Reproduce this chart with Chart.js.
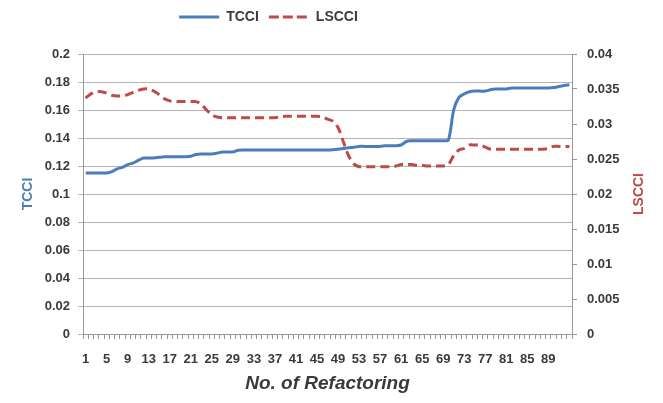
<!DOCTYPE html>
<html>
<head>
<meta charset="utf-8">
<script src="https://cdn.jsdelivr.net/npm/chart.js@4"></script>
<style>
  html, body { margin: 0; padding: 0; background: #fff; }
  #wrap { width: 663px; height: 403px; }
</style>
</head>
<body>
<div id="wrap"><canvas id="chart" width="663" height="403"></canvas></div>
<script>
// refactoring number 1..93
const refactorings = [];
for (let i = 1; i <= 93; i++) refactorings.push(String(i));

const tcci = [
  0.115, 0.115, 0.115, 0.115, 0.115, 0.116, 0.118, 0.119, 0.121, 0.122,
  0.124, 0.1257, 0.1257, 0.1257, 0.1262, 0.1266, 0.1266, 0.1266, 0.1266, 0.1266,
  0.127, 0.1282, 0.1286, 0.1286, 0.1286, 0.1292, 0.130, 0.130, 0.130, 0.1312,
  0.1314, 0.1314, 0.1314, 0.1314, 0.1314, 0.1314, 0.1314, 0.1314, 0.1314, 0.1314,
  0.1314, 0.1314, 0.1314, 0.1314, 0.1314, 0.1314, 0.1314, 0.1316, 0.132, 0.1325,
  0.133, 0.1334, 0.134, 0.134, 0.134, 0.134, 0.134, 0.1345, 0.1345, 0.1345,
  0.135, 0.1375, 0.138, 0.138, 0.138, 0.138, 0.138, 0.138, 0.138, 0.1386,
  0.160, 0.169, 0.1715, 0.173, 0.1735, 0.1735, 0.1735, 0.1745, 0.175, 0.175,
  0.175, 0.1757, 0.1757, 0.1757, 0.1757, 0.1757, 0.1757, 0.1757, 0.1757, 0.176,
  0.1768, 0.1775, 0.178
];

const lscci = [
  0.0337, 0.0343, 0.0346, 0.0346, 0.0344, 0.0341, 0.034, 0.034, 0.0342, 0.0345,
  0.0348, 0.035, 0.035, 0.0347, 0.0342, 0.0336, 0.0333, 0.0332, 0.0332, 0.0332,
  0.0332, 0.0332, 0.0328, 0.032, 0.0313, 0.031, 0.0309, 0.0309, 0.0309, 0.0309,
  0.0309, 0.0309, 0.0309, 0.0309, 0.0309, 0.0309, 0.0309, 0.031, 0.0311, 0.0311,
  0.0311, 0.0311, 0.0311, 0.0311, 0.0311, 0.031, 0.0307, 0.0304, 0.0295, 0.0275,
  0.0255, 0.0243, 0.0239, 0.0239, 0.0239, 0.0239, 0.0239, 0.0239, 0.0239, 0.024,
  0.0242, 0.0242, 0.0242, 0.0241, 0.0241, 0.024, 0.024, 0.024, 0.024, 0.0242,
  0.0255, 0.0263, 0.0265, 0.027, 0.027, 0.027, 0.0267, 0.0264, 0.0264, 0.0264,
  0.0264, 0.0264, 0.0264, 0.0264, 0.0264, 0.0264, 0.0264, 0.0264, 0.0265, 0.0268,
  0.0268, 0.0268, 0.0268
];

const leftTicks = [0, 0.02, 0.04, 0.06, 0.08, 0.1, 0.12, 0.14, 0.16, 0.18, 0.2];
const rightTicks = [0, 0.005, 0.01, 0.015, 0.02, 0.025, 0.03, 0.035, 0.04];

const blue = '#4a7ebb';
const red = '#be4b48';
const tickColor = '#3a3a3a';
const gridColor = '#b4b4b4';
const fontFam = '"Liberation Sans", Arial, sans-serif';

// right axis title reads bottom-to-top like the left one
const rightTitle = {
  id: 'rightTitle',
  afterDraw(chart) {
    const ctx = chart.ctx;
    ctx.save();
    ctx.translate(639, 194);
    ctx.rotate(-Math.PI / 2);
    ctx.fillStyle = red;
    ctx.font = 'bold 14px ' + fontFam;
    ctx.textAlign = 'center';
    ctx.textBaseline = 'middle';
    ctx.fillText('LSCCI', 0, 0);
    ctx.restore();
  }
};

// legend sits left of centre and leaves a gap above the plot
const legendPlace = {
  id: 'legendPlace',
  beforeLayout(chart) {
    const lg = chart.legend;
    if (!lg || lg._patched) return;
    const fit = lg.fit;
    lg.fit = function () { fit.call(this); this.height = 54; };
    lg._patched = true;
  },
  afterLayout(chart) {
    chart.legend.left -= 63;
    chart.legend.right -= 63;
  }
};

new Chart(document.getElementById('chart'), {
  type: 'line',
  data: {
    labels: refactorings,
    datasets: [
      {
        label: 'TCCI',
        data: tcci,
        yAxisID: 'y',
        borderColor: blue,
        backgroundColor: blue,
        borderWidth: 3,
        pointRadius: 0,
        tension: 0.3
      },
      {
        label: 'LSCCI',
        data: lscci,
        yAxisID: 'y1',
        borderColor: red,
        backgroundColor: red,
        borderWidth: 3,
        borderDash: [9, 5],
        pointRadius: 0,
        tension: 0.3
      }
    ]
  },
  options: {
    responsive: false,
    animation: false,
    layout: { padding: 0 },
    plugins: {
      tooltip: { enabled: false },
      legend: {
        position: 'top',
        labels: {
          color: tickColor,
          font: { family: fontFam, size: 14, weight: 'bold' },
          boxWidth: 40,
          boxHeight: 0,
          padding: 10,
          generateLabels(chart) {
            return chart.data.datasets.map((ds, i) => ({
              text: ds.label,
              strokeStyle: ds.borderColor,
              fillStyle: ds.borderColor,
              lineWidth: 3,
              lineDash: ds.borderDash || [],
              fontColor: tickColor,
              datasetIndex: i
            }));
          }
        }
      }
    },
    scales: {
      x: {
        offset: true,
        grid: {
          offset: true,
          drawOnChartArea: false,
          drawTicks: true,
          tickLength: 5,
          color: '#999'
        },
        border: { color: '#999' },
        ticks: {
          autoSkip: false,
          maxRotation: 0,
          padding: 13,
          color: tickColor,
          font: { family: fontFam, size: 13, weight: 'bold' },
          callback: function (v, i) { return (i % 4 === 0 && i < 92) ? this.getLabelForValue(v) : ''; }
        },
        title: {
          display: true,
          text: 'No. of Refactoring',
          color: tickColor,
          font: { family: fontFam, size: 19, weight: 'bold', style: 'italic' },
          padding: { top: 0, bottom: 8 }
        },
        afterFit(scale) { scale.height = 69; }
      },
      y: {
        position: 'left',
        min: 0,
        max: 0.2,
        afterBuildTicks(scale) { scale.ticks = leftTicks.map(v => ({ value: v })); },
        grid: { color: gridColor, tickLength: 5 },
        border: { color: '#999' },
        ticks: {
          color: tickColor,
          padding: 8,
          font: { family: fontFam, size: 13, weight: 'bold' },
          callback: v => String(Math.round(v * 100) / 100)
        },
        title: {
          display: true,
          text: 'TCCI',
          color: blue,
          font: { family: fontFam, size: 14, weight: 'bold' },
          padding: { top: 20, bottom: 0 }
        },
        afterFit(scale) { scale.width = 83; }
      },
      y1: {
        position: 'right',
        min: 0,
        max: 0.04,
        afterBuildTicks(scale) { scale.ticks = rightTicks.map(v => ({ value: v })); },
        grid: { drawOnChartArea: false, tickLength: 5, color: '#999' },
        border: { color: '#999' },
        ticks: {
          color: tickColor,
          padding: 10,
          font: { family: fontFam, size: 13, weight: 'bold' },
          callback: v => String(Math.round(v * 1000) / 1000)
        },
        afterFit(scale) { scale.width = 91; }
      }
    }
  },
  plugins: [rightTitle, legendPlace]
});
</script>
</body>
</html>
